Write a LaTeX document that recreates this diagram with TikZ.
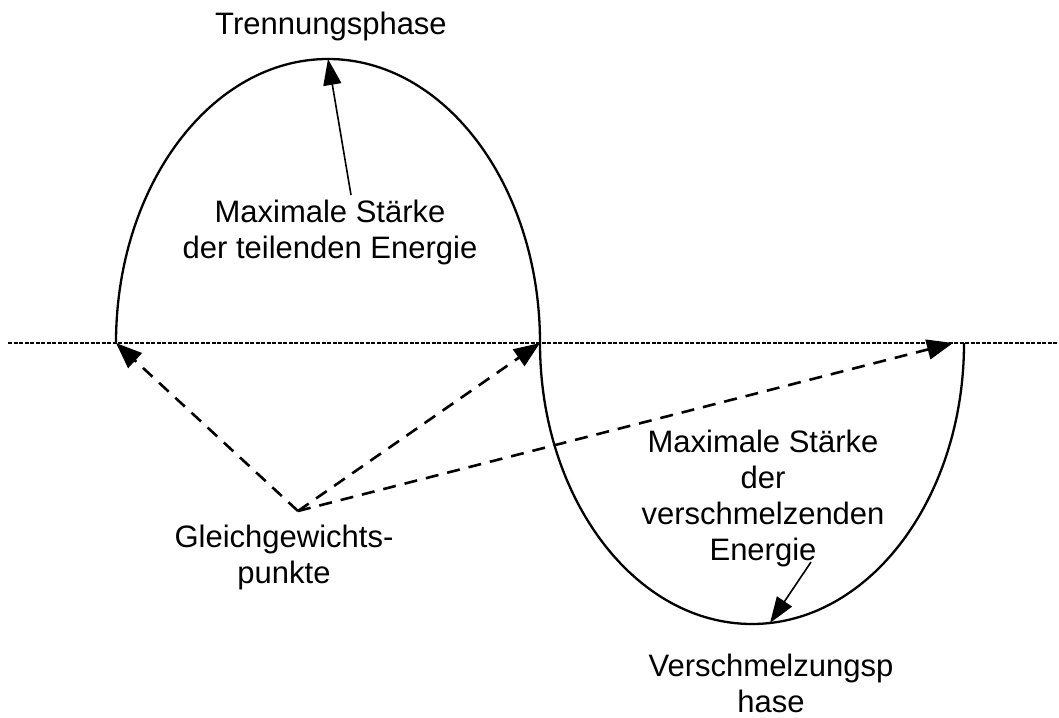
\documentclass[tikz,border=0pt]{standalone}
\usepackage{fontspec}
\setmainfont{Liberation Sans}
\usetikzlibrary{arrows.meta}
\begin{document}
\begin{tikzpicture}[x=1pt,y=-1pt,
  curve/.style={line width=2.3pt},
  axisline/.style={line width=1.8pt, dash pattern=on 4pt off 1.5pt},
  solidarrow/.style={line width=1.6pt, -{Triangle[length=26pt,width=18pt]}},
  dasharrow/.style={line width=2.6pt, dash pattern=on 13pt off 9pt, -{Triangle[length=26pt,width=20pt]}},
  lbl/.style={font=\fontsize{31}{36}\selectfont, align=center, inner sep=0pt, anchor=base}
]
\useasboundingbox (0,0) rectangle (1059,717);
% axis
\coordinate (axl) at (8,343);
\coordinate (axr) at (1059,343);
\draw[axisline] (axl) -- (axr);
% equilibrium points
\coordinate (p1) at (116,343);
\coordinate (p2) at (540,343);
\coordinate (p3) at (964,343);
\coordinate (p3t) at (953,343);
\coordinate (top) at (328,59);
\coordinate (bot) at (770,623);
% curves
\draw[curve] (p1) arc[start angle=180, end angle=360, x radius=212, y radius=284];
\draw[curve] (p2) arc[start angle=180, end angle=0, x radius=212, y radius=281];
% labels (anchor = baseline of last line)
\node[lbl] (trenn) at (331,35) {Trennungsphase};
\node[lbl] (maxt) at (330,258) {Maximale Stärke\\der teilenden Energie};
\node[lbl] (gleich) at (284,583) {Gleichgewichts-\\punkte};
\node[lbl] (maxv) at (763,560) {Maximale Stärke\\der\\verschmelzenden\\Energie};
\node[lbl] (versch) at (771,712) {Verschmelzungsp\\hase};
% arrows
\coordinate (a1s) at (351,195);
\draw[solidarrow] (a1s) -- (top);
\coordinate (a2s) at (811,562);
\draw[solidarrow] (a2s) -- (bot);
\coordinate (g) at (298,511);
\draw[dasharrow] (g) -- (p1);
\draw[dasharrow] (g) -- (p2);
\draw[dasharrow] (g) -- (p3t);
\end{tikzpicture}
\end{document}
